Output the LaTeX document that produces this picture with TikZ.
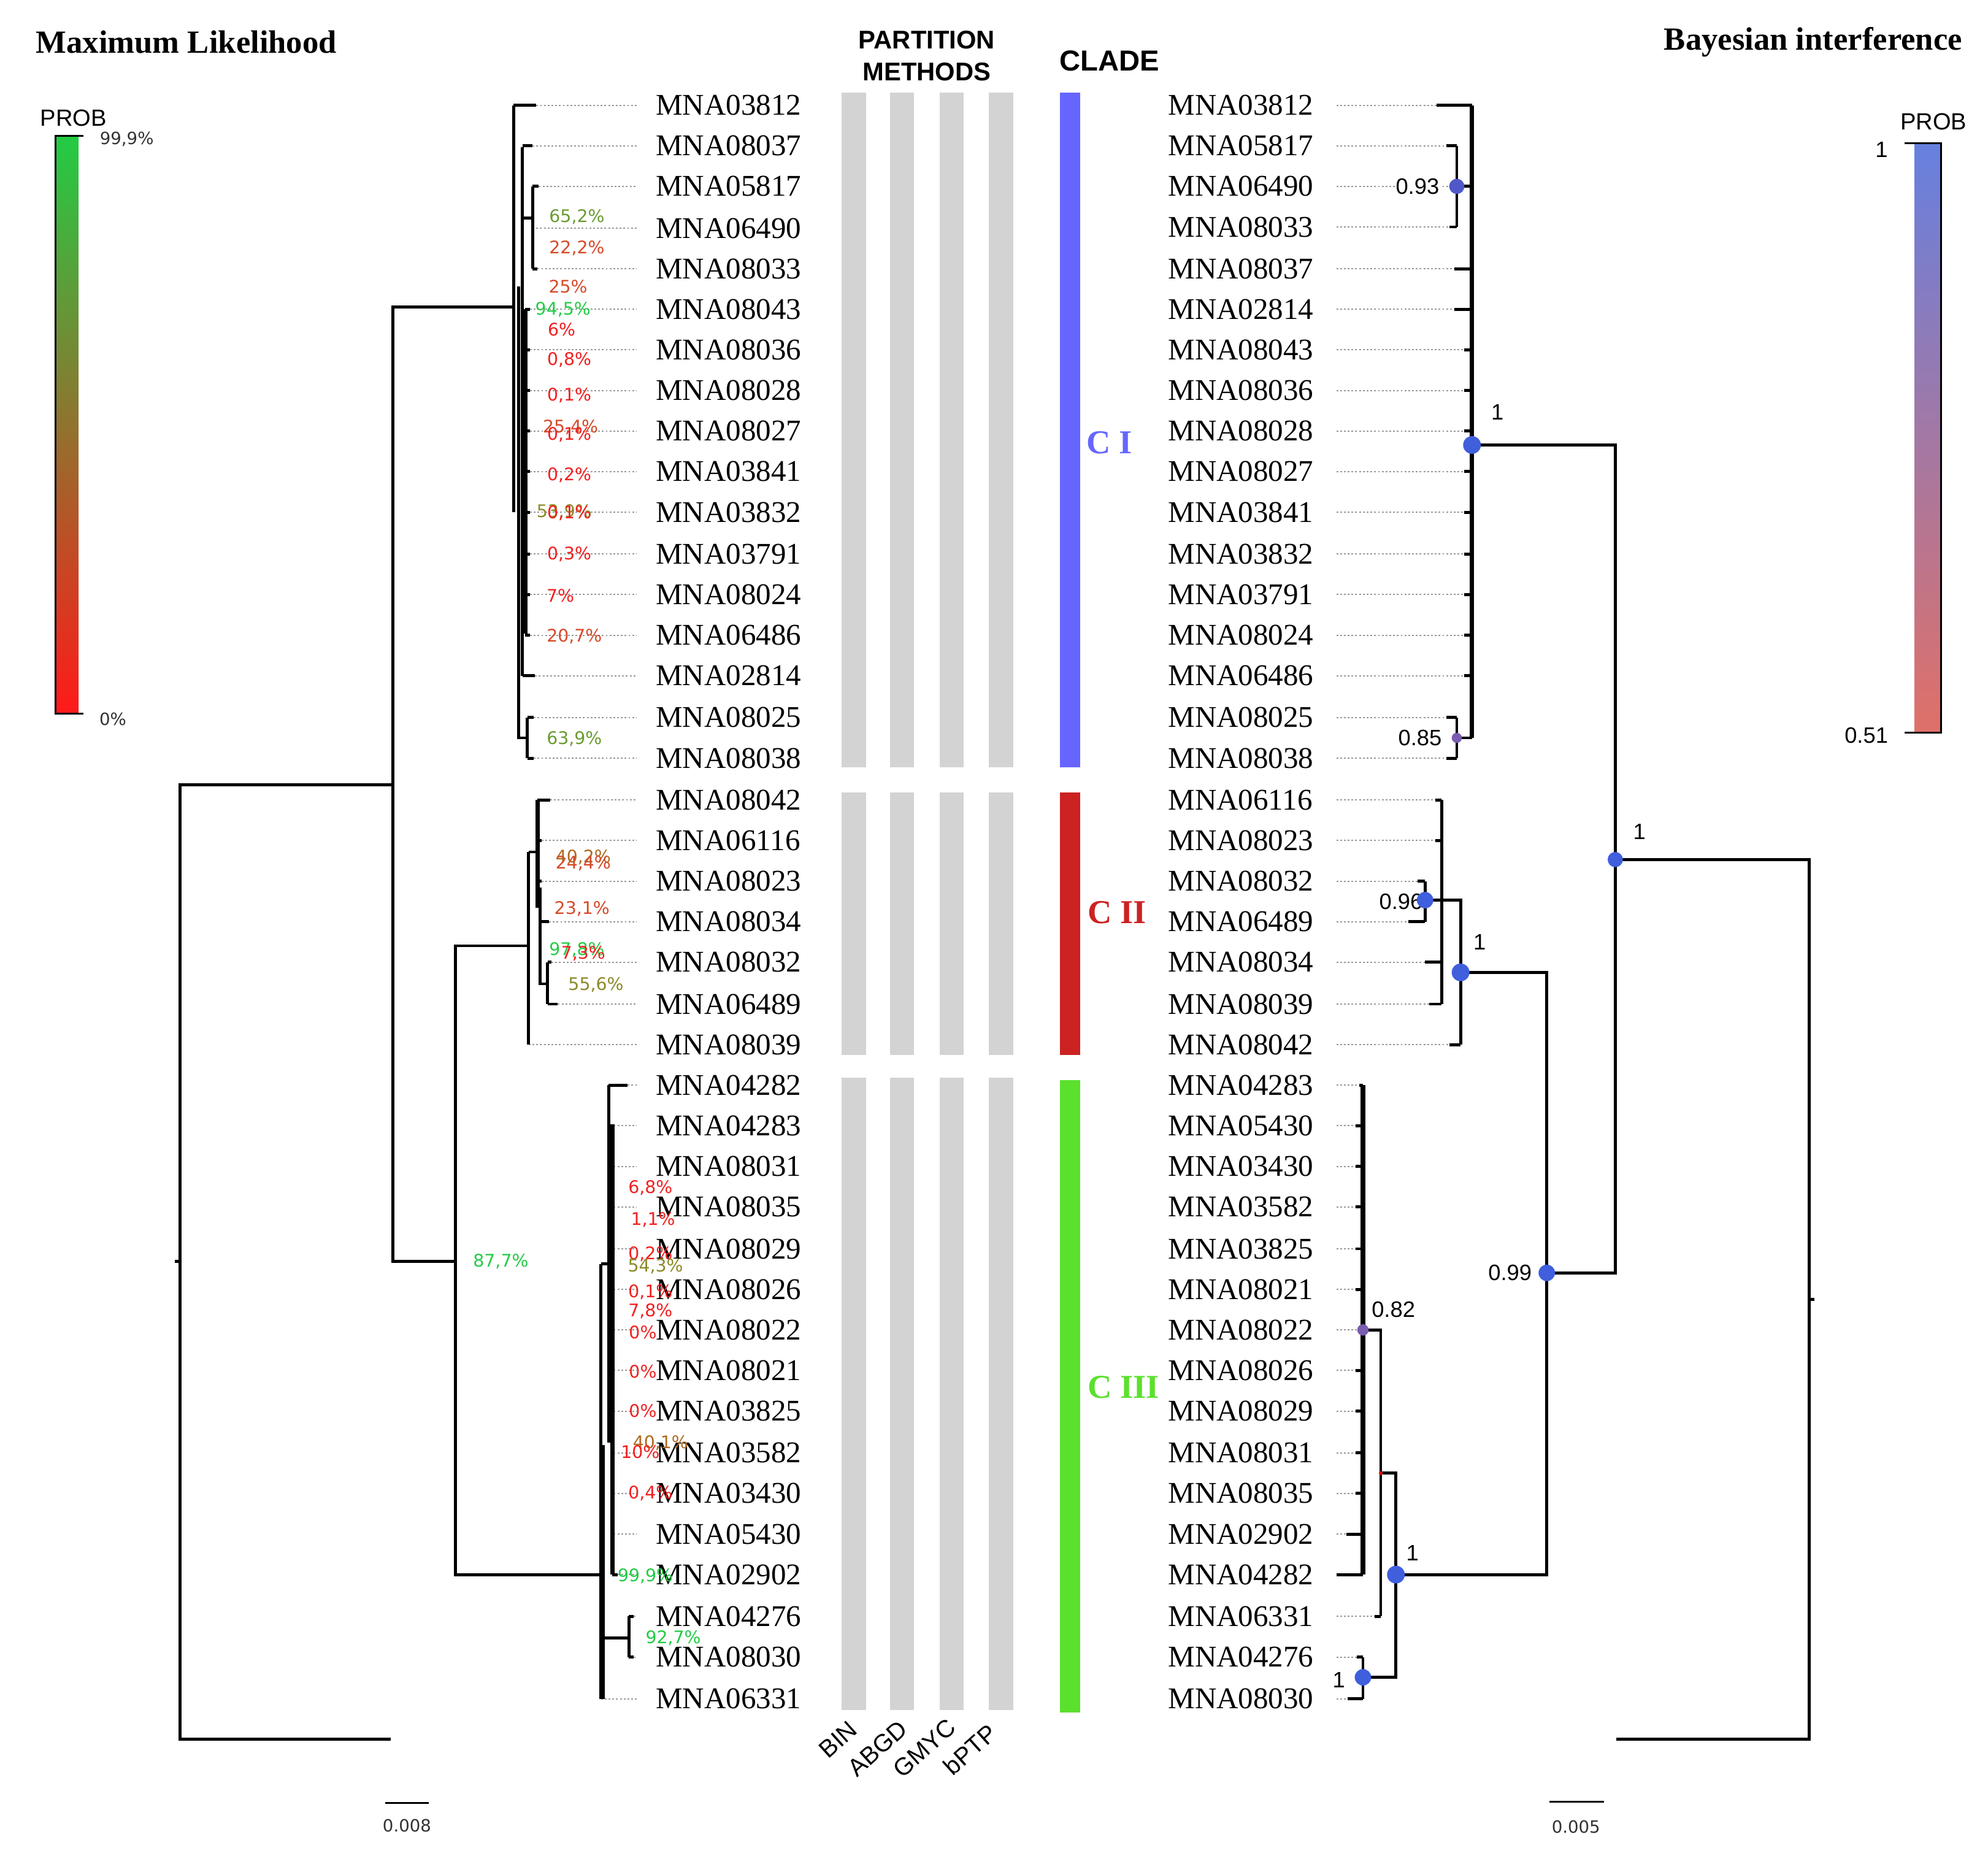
\documentclass[tikz,border=0pt]{standalone}
\usepackage{fontspec}
\setmainfont{Liberation Serif}
\setsansfont{Liberation Sans}
\newfontfamily\pctfamily{DejaVu Sans}
\usetikzlibrary{positioning}

\definecolor{barGray}{HTML}{D3D3D3}
\definecolor{cladeBlue}{HTML}{6666FF}
\definecolor{cladeRed}{HTML}{CC2222}
\definecolor{cladeGreen}{HTML}{5CE02E}
\definecolor{pRed}{HTML}{F22020}
\definecolor{pOrange}{HTML}{D64A28}
\definecolor{pOlive}{HTML}{6A9A30}
\definecolor{pGreen}{HTML}{22CC44}
\definecolor{pKhaki}{HTML}{8A8A28}
\definecolor{pBrown}{HTML}{B06A20}
\definecolor{ppBlue}{HTML}{3F5FDD}
\definecolor{ppPurple}{HTML}{7A5CB0}

\begin{document}
\begin{tikzpicture}[x=0.2mm, y=-0.2mm,
  br/.style={line width=1.35pt},
  thickbr/.style={line width=2pt},
  leader/.style={gray!80, line width=0.55pt, dash pattern=on 0.8pt off 0.9pt},
  leaf/.style={anchor=west, inner sep=0pt, font=\fontsize{13.5}{15}\selectfont},
  pct/.style={inner sep=0pt, font=\pctfamily\fontsize{7.8}{9}\selectfont},
  post/.style={inner sep=0.5pt, font=\sffamily\fontsize{10}{12}\selectfont},
  pp/.style={circle, fill=ppBlue, inner sep=0pt, minimum size=2.6mm},
  mltitle/.style={inner sep=0pt, font=\bfseries\fontsize{14.5}{17}\selectfont},
  head/.style={inner sep=0pt, align=center, font=\sffamily\bfseries\fontsize{11.5}{14.2}\selectfont},
  method/.style={inner sep=0pt, rotate=42, font=\sffamily\fontsize{11}{13}\selectfont},
  clade/.style={inner sep=0pt, font=\bfseries\fontsize{15}{17}\selectfont},
  small/.style={inner sep=0pt, text=black!80, font=\pctfamily\fontsize{7.6}{9}\selectfont}]

\fill[white] (0,0) rectangle (1568,1470);
\useasboundingbox (0,0) rectangle (1568,1470);

% titles
\node[mltitle] (mlTitle) at (147,33) {Maximum Likelihood};
\node[mltitle, anchor=east] (biTitle) at (1548,33) {Bayesian interference};
\node[head] (partHead) at (731,44) {PARTITION\\METHODS};
\node[head, font=\sffamily\bfseries\fontsize{13}{15}\selectfont] (cladeHead) at (875,48) {CLADE};

% probability bars
\shade[top color=pGreen, middle color={rgb,255:red,138;green,122;blue,50}, bottom color=red!90] (44,107) rectangle (62,563);
\draw[line width=0.8pt] (66,107) -- (44,107) -- (44,563) -- (66,563);
\node[inner sep=0pt, font=\sffamily\fontsize{10.5}{12}\selectfont] (mlProb) at (58,93) {PROB};
\node[small] (mlHigh) at (100,110) {99,9\%};
\node[small] (mlLow) at (89,567) {0\%};

\shade[top color={rgb,255:red,102;green,128;blue,224}, middle color={rgb,255:red,160;green,122;blue,168}, bottom color={rgb,255:red,224;green,112;blue,104}] (1510,113) rectangle (1531,578);
\draw[line width=0.8pt] (1502,113) -- (1531,113) -- (1531,578) -- (1502,578);
\node[inner sep=0pt, font=\sffamily\fontsize{10.5}{12}\selectfont] (biProb) at (1525,96) {PROB};
\node[post] (biHigh) at (1484,118) {1};
\node[post] (biLow) at (1472,580) {0.51};

% partition methods and clades
\foreach \x in {664,702,741,780}
  \foreach \a/\b in {73/605,625/832,850/1349}
    \fill[barGray] (\x,\a) rectangle (\x+19,\b);
\fill[cladeBlue] (836,73) rectangle (852,605);
\fill[cladeRed] (836,625) rectangle (852,832);
\fill[cladeGreen] (836,852) rectangle (852,1351);
\node[clade, text=cladeBlue] (cI) at (875,349) {C I};
\node[clade, text=cladeRed] (cII) at (881,720) {C II};
\node[clade, text=cladeGreen] (cIII) at (886,1094) {C III};

\node[method] (mBIN) at (661,1372) {BIN};
\node[method] (mABGD) at (692,1379) {ABGD};
\node[method] (mGMYC) at (729,1379) {GMYC};
\node[method] (mbPTP) at (765,1380) {bPTP};

% ML leaves: name/y/tip/parent
\foreach \n/\y/\t/\p in {03812/83/423/405, 08037/115/420/412, 05817/147/425/420, 06490/180/420/420,
  08033/212/424/420, 08043/244/418/414, 08036/276/418/414, 08028/308/418/414, 08027/340/418/414,
  03841/372/418/414, 03832/404/418/414, 03791/437/418/414, 08024/469/418/414, 06486/501/418/414,
  02814/533/422/412, 08025/566/421/416, 08038/598/421/416,
  08042/631/434/424, 06116/663/427/424, 08023/695/427/424, 08034/727/433/426, 08032/759/435/432,
  06489/792/440/432, 08039/824/417/417,
  04282/856/495/480, 04283/888/484/483, 08031/920/484/483, 08035/952/484/483, 08029/985/484/483,
  08026/1017/484/483, 08022/1049/484/483, 08021/1081/484/483, 03825/1113/484/483, 03582/1146/484/483,
  03430/1178/484/483, 05430/1210/484/483, 02902/1242/487/483, 04276/1275/500/496, 08030/1307/500/496,
  06331/1340/474/474}
{
  \draw[leader] (\t,\y) -- (502,\y);
  \draw[br] (\t,\y) -- (\p,\y);
  \node[leaf] (L\n) at (517,\y) {MNA\n};
}

% ML tree
\draw[br] (308,1372) -- (142,1372) -- (142,619) -- (310,619);
\draw[br] (138,995) -- (142,995);
\draw[br] (405,242) -- (310,242) -- (310,995) -- (359,995);
\draw[br] (417,746) -- (359,746) -- (359,1242) -- (474,1242);
\draw[br] (405,83) -- (405,404);
\draw[br] (409,226) -- (409,582) -- (416,582);
\draw[br] (416,566) -- (416,598);
\draw[br] (412,116) -- (412,533);
\draw[br] (412,172) -- (420,172);
\draw[br] (420,147) -- (420,212);
\draw[line width=2.6pt] (414,244) -- (414,500);
\draw[br] (417,672) -- (417,824);
\draw[br] (417,672) -- (424,672);
\draw[thickbr] (424,631) -- (424,716);
\draw[br] (426,700) -- (426,776) -- (432,776);
\draw[br] (432,759) -- (432,792);
\draw[br] (474,997) -- (474,1340);
\draw[br] (476,1140) -- (476,1340);
\draw[br] (474,997) -- (480,997);
\draw[br] (480,856) -- (480,1138);
\draw[thickbr] (483,887) -- (483,1242);
\draw[br] (476,1292) -- (496,1292);
\draw[br] (496,1275) -- (496,1307);

% ML bootstrap values
\foreach \x/\y/\c/\v in {455/171/pOlive/{65,2}, 455/196/pOrange/{22,2}, 448/226/pOrange/25,
  444/244/pGreen/{94,5}, 443/260/pRed/6, 449/284/pRed/{0,8}, 449/312/pRed/{0,1},
  450/337/pOrange/{25,4}, 449/343/pRed/{0,1}, 449/375/pRed/{0,2}, 445/404/pKhaki/{53,9},
  449/405/pRed/{0,1}, 449/437/pRed/{0,3}, 442/470/pRed/7, 453/502/pOrange/{20,7}, 453/583/pOlive/{63,9},
  460/676/pBrown/{40,2}, 460/681/pOrange/{24,4}, 459/717/pOrange/{23,1}, 455/749/pGreen/{97,8},
  460/752/pRed/{7,3}, 470/777/pKhaki/{55,6},
  395/995/pGreen/{87,7}, 513/937/pRed/{6,8}, 515/962/pRed/{1,1}, 513/989/pRed/{0,2}, 517/999/pKhaki/{54,3},
  513/1019/pRed/{0,1}, 513/1034/pRed/{7,8}, 507/1051/pRed/0, 507/1082/pRed/0, 507/1113/pRed/0,
  521/1138/pBrown/{40,1}, 505/1145/pRed/10, 513/1178/pRed/{0,4}, 509/1243/pGreen/{99,9}, 531/1292/pGreen/{92,7}}
  \node[pct, text=\c] at (\x,\y) {\v\%};

% BI leaves: name/y/tip/parent
\foreach \n/\y/\t/\p in {03812/83/1133/1161, 05817/115/1141/1149, 06490/147/1149/1149, 08033/179/1143/1149,
  08037/212/1147/1161, 02814/244/1147/1161, 08043/276/1155/1161, 08036/308/1155/1161, 08028/340/1155/1161,
  08027/372/1155/1161, 03841/404/1155/1161, 03832/437/1155/1161, 03791/469/1155/1161, 08024/501/1155/1161,
  06486/533/1155/1161, 08025/566/1141/1149, 08038/598/1141/1149,
  06116/631/1132/1137, 08023/663/1132/1137, 08032/695/1118/1124, 06489/727/1111/1124, 08034/759/1124/1137,
  08039/792/1127/1137, 08042/824/1143/1152,
  04283/856/1072/1075, 05430/888/1069/1075, 03430/920/1069/1075, 03582/952/1069/1075, 03825/985/1069/1075,
  08021/1017/1069/1075, 08022/1049/1075/1075, 08026/1081/1069/1075, 08029/1113/1069/1075, 08031/1146/1069/1075,
  08035/1178/1069/1075, 02902/1210/1062/1075, 04282/1242/1054/1075, 06331/1275/1084/1089,
  04276/1307/1070/1075, 08030/1340/1063/1075}
{
  \draw[leader] (1054,\y) -- (\t,\y);
  \draw[br] (\t,\y) -- (\p,\y);
  \node[leaf] (R\n) at (921,\y) {MNA\n};
}

% BI tree
\draw[thickbr] (1161,83) -- (1161,582);
\draw[br] (1149,115) -- (1149,179);
\draw[br] (1149,147) -- (1161,147);
\draw[br] (1149,566) -- (1149,598);
\draw[br] (1149,582) -- (1161,582);
\draw[br] (1161,351) -- (1274,351) -- (1274,1004) -- (1220,1004);
\draw[br] (1274,678) -- (1427,678) -- (1427,1372) -- (1275,1372);
\draw[br] (1427,1025) -- (1431,1025);
\draw[br] (1137,631) -- (1137,792);
\draw[br] (1124,695) -- (1124,727);
\draw[br] (1124,710) -- (1152,710) -- (1152,824);
\draw[br] (1152,767) -- (1220,767) -- (1220,1242) -- (1101,1242);
\draw[thickbr] (1075,856) -- (1075,1242);
\draw[br] (1075,1049) -- (1089,1049) -- (1089,1275);
\draw[br] (1089,1162) -- (1101,1162) -- (1101,1323) -- (1075,1323);
\draw[br] (1075,1307) -- (1075,1340);

% posterior probabilities
\node[post, fill=white] (q093) at (1118,147) {0.93};
\node[post] (q085) at (1120,582) {0.85};
\node[post] (qCI) at (1181,325) {1};
\node[post] (qRoot) at (1293,656) {1};
\node[post] (q099) at (1191,1004) {0.99};
\node[post] (q096) at (1105,711) {0.96};
\node[post] (qCII) at (1167,743) {1};
\node[post] (q082) at (1099,1033) {0.82};
\node[post] (qCIII) at (1114,1225) {1};
\node[post] (q1b) at (1056,1325) {1};

\node[pp, fill={rgb,255:red,80;green,88;blue,200}, minimum size=2.4mm] (n093) at (1149,147) {};
\node[pp, fill=ppPurple, minimum size=1.6mm] (n085) at (1149,582) {};
\node[pp, minimum size=2.8mm] (nCI) at (1161,351) {};
\node[pp, minimum size=2.4mm] (nRoot) at (1274,678) {};
\node[pp] (n099) at (1220,1004) {};
\node[pp] (n096) at (1124,710) {};
\node[pp, minimum size=2.8mm] (nCII) at (1152,767) {};
\node[pp, fill=ppPurple, minimum size=1.8mm] (n082) at (1075,1049) {};
\node[pp, fill=red, minimum size=0.6mm] (nSmall) at (1089,1162) {};
\node[pp, minimum size=2.8mm] (nCIII) at (1101,1242) {};
\node[pp] (n1b) at (1075,1323) {};

% scale bars
\draw[line width=0.8pt] (304,1422) -- (338,1422);
\node[small] (mlScale) at (321,1440) {0.008};
\draw[line width=0.8pt] (1222,1421) -- (1265,1421);
\node[small] (biScale) at (1243,1441) {0.005};
\end{tikzpicture}
\end{document}
